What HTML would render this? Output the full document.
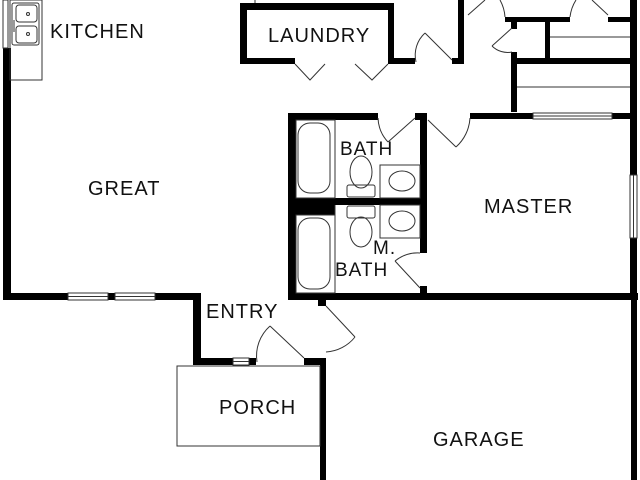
<!DOCTYPE html>
<html><head><style>
html,body{margin:0;padding:0;background:#fff;}
svg{display:block;}
text{font-family:"Liberation Sans",sans-serif;font-size:20px;letter-spacing:1px;fill:#111;}
</style></head><body>
<svg width="640" height="480" viewBox="0 0 640 480" xmlns="http://www.w3.org/2000/svg">
<g fill="#000">
<rect x="3" y="48" width="8" height="252"/>
<rect x="3" y="293" width="65" height="7"/>
<rect x="108" y="293" width="7" height="7"/>
<rect x="155" y="293" width="46" height="7"/>
<rect x="193" y="293" width="8" height="72"/>
<rect x="193" y="358" width="40" height="7"/>
<rect x="249" y="358" width="7" height="7"/>
<rect x="304" y="358" width="22" height="7"/>
<rect x="320" y="358" width="6" height="122"/>
<rect x="318" y="298" width="8" height="8"/>
<rect x="288" y="293" width="350" height="7"/>
<rect x="631" y="298" width="6" height="182"/>
<rect x="630" y="0" width="7" height="175"/>
<rect x="630" y="238" width="7" height="60"/>
<rect x="288" y="113" width="8" height="187"/>
<rect x="288" y="113" width="90" height="7"/>
<rect x="415" y="113" width="10" height="7"/>
<rect x="420" y="113" width="7" height="140"/>
<rect x="420" y="286" width="7" height="10"/>
<rect x="470" y="113" width="63" height="6"/>
<rect x="612" y="113" width="25" height="6"/>
<rect x="296" y="198" width="128" height="7"/>
<rect x="296" y="200" width="39" height="15"/>
<rect x="240" y="3" width="7" height="61"/>
<rect x="240" y="3" width="154" height="7"/>
<rect x="388" y="3" width="6" height="61"/>
<rect x="240" y="58" width="55" height="6"/>
<rect x="388" y="58" width="27" height="6"/>
<rect x="458" y="0" width="6" height="63"/>
<rect x="452" y="58" width="12" height="6"/>
<rect x="505" y="17" width="65" height="5"/>
<rect x="608" y="17" width="25" height="5"/>
<rect x="511" y="17" width="6" height="12"/>
<rect x="511" y="52" width="6" height="60"/>
<rect x="545" y="20" width="5" height="42"/>
<rect x="512" y="58" width="121" height="6"/>
</g>
<g fill="none" stroke="#333" stroke-width="1">
<rect x="3" y="0" width="5" height="48"/>
<rect x="10" y="0" width="32" height="80"/>
<rect x="12" y="3" width="27" height="42" rx="2"/>
<rect x="16" y="5" width="21" height="17" rx="3"/>
<rect x="16" y="26" width="21" height="17" rx="3"/>
<circle cx="28" cy="14" r="1.5"/><circle cx="28" cy="34" r="1.5"/>
<line x1="14" y1="20" x2="14" y2="32"/>
<rect x="68" y="293" width="40" height="7"/><line x1="68" y1="296.5" x2="108" y2="296.5"/>
<rect x="115" y="293" width="40" height="7"/><line x1="115" y1="296.5" x2="155" y2="296.5"/>
<rect x="233" y="358" width="16" height="7"/><line x1="233" y1="361.5" x2="249" y2="361.5"/>
<rect x="630" y="175" width="7" height="63"/><line x1="633.5" y1="175" x2="633.5" y2="238"/>
<rect x="533" y="113" width="79" height="6"/><line x1="533" y1="116" x2="612" y2="116"/>
<rect x="177" y="366" width="143" height="80"/>
<path d="M304 358 L270 326 M270 326 A40 40 0 0 0 257 362" />
<path d="M326 306 L355 337 M355 337 A40 40 0 0 1 326 352"/>
<path d="M420 288 L395 261 M395 261 A36 36 0 0 1 420 253"/>
<path d="M415 118 L388 142 M378 118 A37 37 0 0 0 388 142" />
<path d="M428 120 L456 147 M456 147 A42 42 0 0 0 470 118"/>
<path d="M425 33 L452 60 M416 62 A30 30 0 0 1 425 33" />
<path d="M512 28 L492 46 M492 46 A22 22 0 0 0 512 52"/>
<path d="M468 15 L485 0 M608 15 L592 0 M505 17 A40 40 0 0 0 500 0 M570 17 A40 40 0 0 1 576 0"/>
<path d="M295 64 L310 80 L325 64 M355 64 L372 80 L388 64"/>
<line x1="550" y1="37" x2="630" y2="37"/>
<line x1="517" y1="87" x2="630" y2="87"/>
<rect x="296" y="120" width="39" height="78"/>
<rect x="298" y="123" width="32" height="70" rx="12"/>
<rect x="296" y="215" width="39" height="78"/>
<rect x="298" y="218" width="32" height="71" rx="12"/>
<line x1="335" y1="205" x2="335" y2="293"/>
<ellipse cx="361" cy="172" rx="11" ry="16"/>
<rect x="347" y="185" width="28" height="12" rx="2"/>
<rect x="347" y="206" width="28" height="12" rx="2"/>
<ellipse cx="361" cy="232" rx="11" ry="15"/>
<rect x="380" y="165" width="40" height="33"/>
<ellipse cx="402" cy="181" rx="13" ry="10"/>
<rect x="380" y="205" width="40" height="33"/>
<ellipse cx="402" cy="221" rx="13" ry="10"/>
<line x1="255" y1="0" x2="255" y2="3"/>
</g>
<text x="50" y="38">KITCHEN</text>
<text x="268" y="42">LAUNDRY</text>
<text x="88" y="195">GREAT</text>
<text x="340" y="155" style="font-size:19px">BATH</text>
<text x="484" y="213">MASTER</text>
<text x="373" y="254" style="font-size:19px">M.</text>
<text x="335" y="276" style="font-size:19px">BATH</text>
<text x="206" y="318">ENTRY</text>
<text x="219" y="414">PORCH</text>
<text x="433" y="446">GARAGE</text>
</svg>
</body></html>
